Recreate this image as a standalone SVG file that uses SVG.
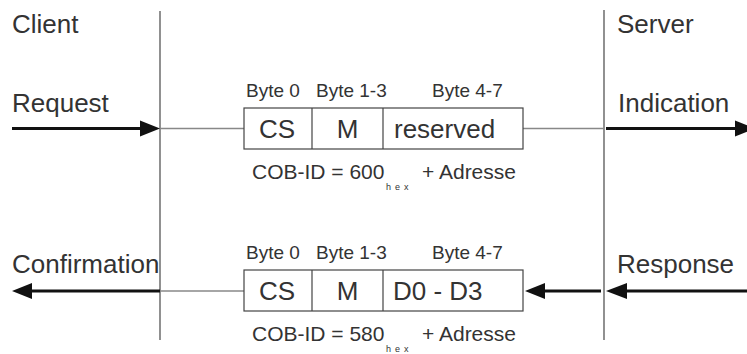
<svg xmlns="http://www.w3.org/2000/svg" width="747" height="354" viewBox="0 0 747 354">
<style>
text{font-family:"Liberation Sans",Arial,sans-serif;fill:#333}
.lbl{font-size:26px}
.byte{font-size:19px}
.cell{font-size:26px}
.cob{font-size:21px}
.hex{font-size:9px;letter-spacing:4px}
.box{fill:#fff;stroke:#444;stroke-width:1.2}
.thin{stroke:#888;stroke-width:1.3;fill:none}
.thick{stroke:#111;stroke-width:3;fill:none}
.head{fill:#111}
.vline{stroke:#555;stroke-width:1.3}
</style>
<rect width="747" height="354" fill="#fff"/>
<g id="lifelines">
<line class="vline" x1="160" y1="11" x2="160" y2="340"/>
<line class="vline" x1="604" y1="10" x2="604" y2="340" stroke="#777"/>
</g>
<g id="client-label"><text class="lbl" x="12" y="33">Client</text></g>
<g id="server-label"><text class="lbl" x="617" y="33">Server</text></g>
<g id="request-label"><text class="lbl" x="12" y="112">Request</text></g>
<g id="indication-label"><text class="lbl" x="618" y="112">Indication</text></g>
<g id="confirmation-label"><text class="lbl" x="12" y="273">Confirmation</text></g>
<g id="response-label"><text class="lbl" x="617" y="273">Response</text></g>
<g id="connectors">
<line class="thick" x1="12" y1="128.5" x2="142" y2="128.5"/>
<polygon class="head" points="140,120.5 160,128.5 140,136.5"/>
<line class="thin" x1="160" y1="128.5" x2="244" y2="128.5"/>
<line class="thin" x1="523" y1="128.5" x2="604" y2="128.5"/>
<line class="thick" x1="606" y1="128.5" x2="737" y2="128.5"/>
<polygon class="head" points="735,120.5 755,128.5 735,136.5"/>
<line class="thick" x1="30" y1="291" x2="160" y2="291"/>
<polygon class="head" points="32,283 12,291 32,299"/>
<line class="thin" x1="160" y1="291" x2="244" y2="291"/>
<line class="thick" x1="543" y1="291" x2="601" y2="291"/>
<polygon class="head" points="545,283 525,291 545,299"/>
<line class="thick" x1="625" y1="291" x2="747" y2="291"/>
<polygon class="head" points="627,283 606,291 627,299"/>
</g>
<g id="request-frame">
<text class="byte" x="246" y="97">Byte 0</text>
<text class="byte" x="316" y="97">Byte 1-3</text>
<text class="byte" x="432" y="97">Byte 4-7</text>
<rect class="box" x="244" y="108" width="279" height="41"/>
<line class="box" x1="312" y1="108" x2="312" y2="149"/>
<line class="box" x1="383" y1="108" x2="383" y2="149"/>
<text class="cell" x="277" y="137.5" text-anchor="middle">CS</text>
<text class="cell" x="347.5" y="137.5" text-anchor="middle">M</text>
<text class="cell" x="394" y="137.5">reserved</text>
<text class="cob" x="252" y="179">COB-ID = 600</text>
<text class="hex" x="386" y="190">hex</text>
<text class="cob" x="422" y="179">+ Adresse</text>
</g>
<g id="response-frame">
<text class="byte" x="246" y="259">Byte 0</text>
<text class="byte" x="316" y="259">Byte 1-3</text>
<text class="byte" x="432" y="259">Byte 4-7</text>
<rect class="box" x="244" y="270" width="279" height="41"/>
<line class="box" x1="312" y1="270" x2="312" y2="311"/>
<line class="box" x1="383" y1="270" x2="383" y2="311"/>
<text class="cell" x="277" y="299.5" text-anchor="middle">CS</text>
<text class="cell" x="347.5" y="299.5" text-anchor="middle">M</text>
<text class="cell" x="393" y="299.5">D0 - D3</text>
<text class="cob" x="252" y="341">COB-ID = 580</text>
<text class="hex" x="386" y="352">hex</text>
<text class="cob" x="422" y="341">+ Adresse</text>
</g>
</svg>
